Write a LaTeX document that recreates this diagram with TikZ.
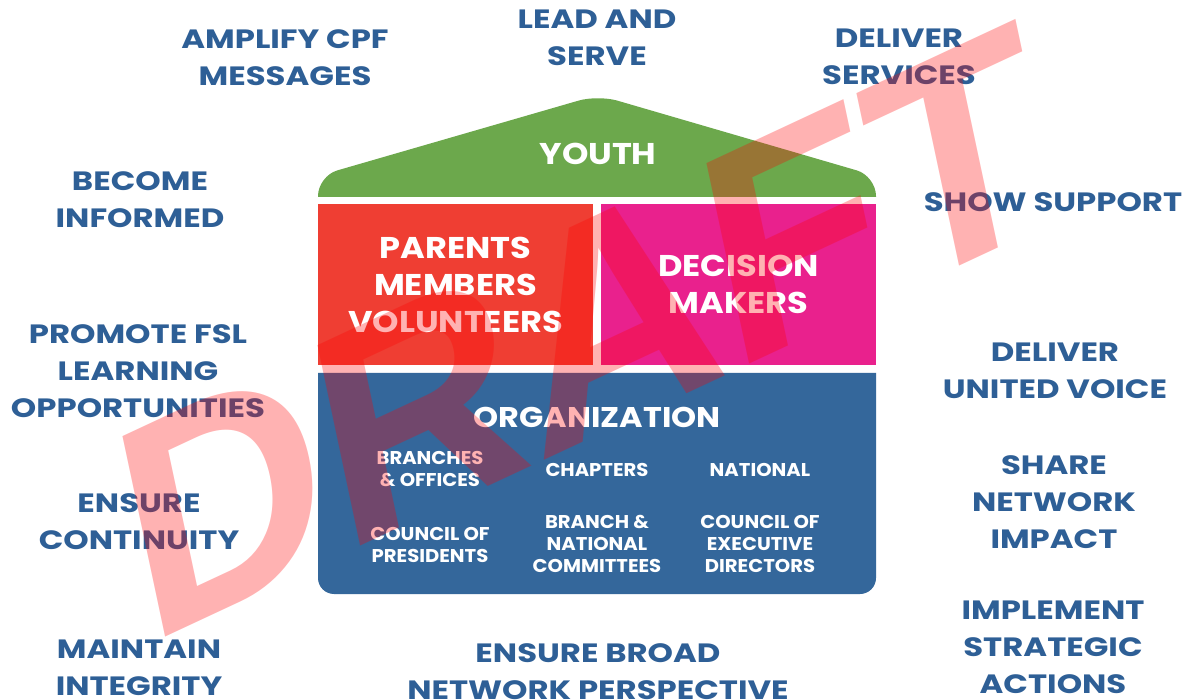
\documentclass[tikz,border=0pt]{standalone}
\usepackage{fontspec}
\newfontfamily\outerfont{Poppins}[FakeStretch=1.22]
\newfontfamily\bigfont{Poppins}[FakeStretch=1.12]
\newfontfamily\smallfont{Poppins}[FakeStretch=1.06]
\newfontfamily\stampfont{Liberation Sans}
\definecolor{txtblue}{HTML}{2E5F96}
\definecolor{roofgreen}{HTML}{6CA84C}
\definecolor{boxred}{HTML}{EF3E33}
\definecolor{boxpink}{HTML}{E9218D}
\definecolor{boxblue}{HTML}{34679B}
\begin{document}
\begin{tikzpicture}[x=1pt,y=-1pt,
  outer/.style={font={\outerfont\bfseries\fontsize{26.5}{37}\selectfont}, text=txtblue, align=center, inner sep=0pt},
  big/.style={font={\bigfont\bfseries\fontsize{30}{37}\selectfont}, text=white, align=center, inner sep=0pt},
  small/.style={font={\smallfont\bfseries\fontsize{18.5}{22}\selectfont}, text=white, align=center, inner sep=0pt},
  panel/.style={inner sep=0pt, minimum width=275pt, minimum height=161pt},
  stamp/.style={font={\stampfont\bfseries\fontsize{298}{298}\selectfont}, text=red, text opacity=0.3, inner sep=0pt}
]
\useasboundingbox (0,0) rectangle (1189,700);
\fill[white] (0,0) rectangle (1189,700);

% roof
\fill[roofgreen] (318,197) [rounded corners=20pt] -- (318,176) -- (598,95) -- (876,176) [sharp corners] -- (876,197) -- cycle;
\node[big] (youth) at (598,154) {YOUTH};

% middle floor
\node[panel, fill=boxred, big] (people) at (455.5,284.5) {PARENTS\\MEMBERS\\VOLUNTEERS};
\node[panel, fill=boxpink, big] (decision) at (738.5,284.5) {DECISION\\MAKERS};

% ground floor
\fill[boxblue] (318,373) -- (876,373) [rounded corners=16pt] -- (876,594) -- (318,594) [sharp corners] -- (318,373) -- cycle;
\node[big, font={\bigfont\bfseries\fontsize{28.5}{37}\selectfont}] (org) at (597,417) {ORGANIZATION};
\node[small] (branches) at (430,469.5) {BRANCHES\\\& OFFICES};
\node[small] (chapters) at (597,470) {CHAPTERS};
\node[small] (national) at (760,470) {NATIONAL};
\node[small] (presidents) at (430,544.5) {COUNCIL OF\\PRESIDENTS};
\node[small] (committees) at (597,543.5) {BRANCH \&\\NATIONAL\\COMMITTEES};
\node[small] (directors) at (760,543.5) {COUNCIL OF\\EXECUTIVE\\DIRECTORS};

% surrounding roles
\node[outer] (amplify) at (285,58) {AMPLIFY CPF\\MESSAGES};
\node[outer] (lead) at (597,37.5) {LEAD AND\\SERVE};
\node[outer] (services) at (899,56.5) {DELIVER\\SERVICES};
\node[outer] (informed) at (140,200) {BECOME\\INFORMED};
\node[outer] (support) at (1053,202) {SHOW SUPPORT};
\node[outer] (promote) at (138,371.5) {PROMOTE FSL\\LEARNING\\OPPORTUNITIES};
\node[outer] (voice) at (1055,370.5) {DELIVER\\UNITED VOICE};
\node[outer] (continuity) at (139,521.5) {ENSURE\\CONTINUITY};
\node[outer] (impact) at (1054,502.5) {SHARE\\NETWORK\\IMPACT};
\node[outer] (integrity) at (139,667.5) {MAINTAIN\\INTEGRITY};
\node[outer] (broad) at (598,672) {ENSURE BROAD\\NETWORK PERSPECTIVE};
\node[outer] (implement) at (1053,647.5) {IMPLEMENT\\STRATEGIC\\ACTIONS};

% watermark
\begin{scope}[shift={(147,646)}, cm={0.906,0.423,-0.208,0.978,(0,0)}]
  \node[stamp, transform shape, anchor=base west] (draft) at (0,0) {DRAFT};
\end{scope}
\end{tikzpicture}
\end{document}
